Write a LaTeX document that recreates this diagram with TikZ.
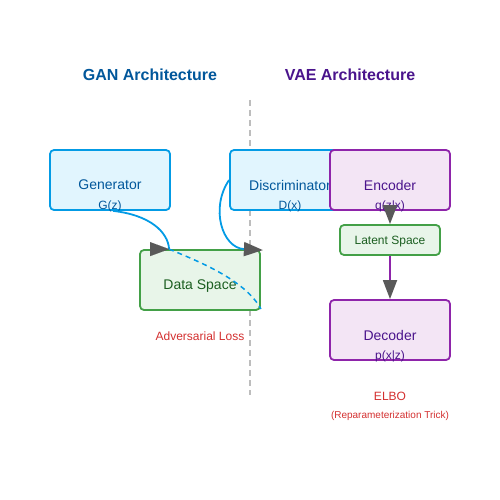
\documentclass[tikz,border=0pt]{standalone}
\usepackage{fontspec}
\setmainfont{Liberation Sans}
\usetikzlibrary{arrows.meta,positioning}
\definecolor{ganline}{HTML}{039BE5}
\definecolor{ganfill}{HTML}{E1F5FE}
\definecolor{gantext}{HTML}{01579B}
\definecolor{vaeline}{HTML}{8E24AA}
\definecolor{vaefill}{HTML}{F3E5F5}
\definecolor{vaetext}{HTML}{4A148C}
\definecolor{dataline}{HTML}{43A047}
\definecolor{datafill}{HTML}{E8F5E9}
\definecolor{datatext}{HTML}{1B5E20}
\definecolor{losstext}{HTML}{D32F2F}
\definecolor{tipgray}{HTML}{595959}
\definecolor{splitgray}{HTML}{BDBDBD}

\begin{document}
\begin{tikzpicture}[x=1pt,y=-1pt,
  box/.style={draw,rounded corners=4pt,line width=1.8pt,inner sep=0pt,minimum width=120pt,minimum height=60pt},
  ganbox/.style={box,draw=ganline,fill=ganfill},
  vaebox/.style={box,draw=vaeline,fill=vaefill},
  databox/.style={box,draw=dataline,fill=datafill},
  title/.style={font=\bfseries\fontsize{16}{19}\selectfont},
  lbl/.style={font=\fontsize{14}{17}\selectfont},
  sub/.style={font=\fontsize{12}{14}\selectfont},
  head/.style={-{Triangle[length=19pt,width=14pt,color=tipgray]}},
  flow/.style={draw=ganline,line width=1.8pt}]
  \useasboundingbox (0,0) rectangle (500,500);

  % titles
  \node[title,text=gantext] (gantitle) at (150,75) {GAN Architecture};
  \node[title,text=vaetext] (vaetitle) at (350,75) {VAE Architecture};
  \draw[splitgray,line width=1.5pt,dash pattern=on 6pt off 4pt] (250,100) coordinate (top) -- (250,395) coordinate (bot);

  % GAN side
  \node[ganbox] (gen) at (110,180) {};
  \node[lbl,text=gantext] (genlbl) at ([yshift=-5pt]gen.center) {Generator};
  \node[sub,text=gantext] (gensub) at ([yshift=-26pt]gen.center) {G(z)};
  \node[ganbox] (disc) at (290,180) {};
  \node[lbl,text=gantext] (disclbl) at ([yshift=-5pt]disc.center) {Discriminator};
  \node[sub,text=gantext] (discsub) at ([yshift=-26pt]disc.center) {D(x)};

  % VAE side
  \node[vaebox] (enc) at (390,180) {};
  \node[lbl,text=vaetext] (enclbl) at ([yshift=-5pt]enc.center) {Encoder};
  \node[sub,text=vaetext] (encsub) at ([yshift=-26pt]enc.center) {q(z|x)};
  \node[databox,minimum width=100pt,minimum height=30pt] (latent) at (390,240) {};
  \node[sub,text=datatext] (latentlbl) at ([yshift=-1.5pt]latent.center) {Latent Space};
  \node[vaebox] (dec) at (390,330) {};
  \node[lbl,text=vaetext] (declbl) at ([yshift=-5pt]dec.center) {Decoder};
  \node[sub,text=vaetext] (decsub) at ([yshift=-26pt]dec.center) {p(x|z)};

  \node[databox] (data) at (200,280) {};
  \node[lbl,text=datatext] (datalbl) at ([yshift=-6pt]data.center) {Data Space};

  % losses
  \node[sub,text=losstext] (adv) at (200,336) {Adversarial Loss};
  \node[sub,text=losstext] (elbo) at (390,396) {ELBO};
  \node[font=\fontsize{10}{12}\selectfont,text=losstext] (trick) at (390,416) {(Reparameterization Trick)};

  % connectors
  \coordinate (din) at ([xshift=30pt]data.north west);
  \draw[flow] ([xshift=3pt]gen.south) .. controls (150,215) and (168,232) .. (din);
  \draw[head,tipgray,line width=0.1pt] ([xshift=-19pt]din) -- (din);
  \draw[flow,head] (disc.west) .. controls (210,208) and (222,248) .. ([xshift=2pt,yshift=-1pt]data.north east);
  \draw[flow,line width=1.5pt,dash pattern=on 5pt off 4pt] (din) .. controls (200,262) and (245,280) .. ([yshift=2pt]data.south east);
  \draw[vaeline,line width=1.8pt,head] (enc.south) -- (latent.north);
  \draw[vaeline,line width=1.8pt,head] (latent.south) -- (dec.north);
\end{tikzpicture}
\end{document}
